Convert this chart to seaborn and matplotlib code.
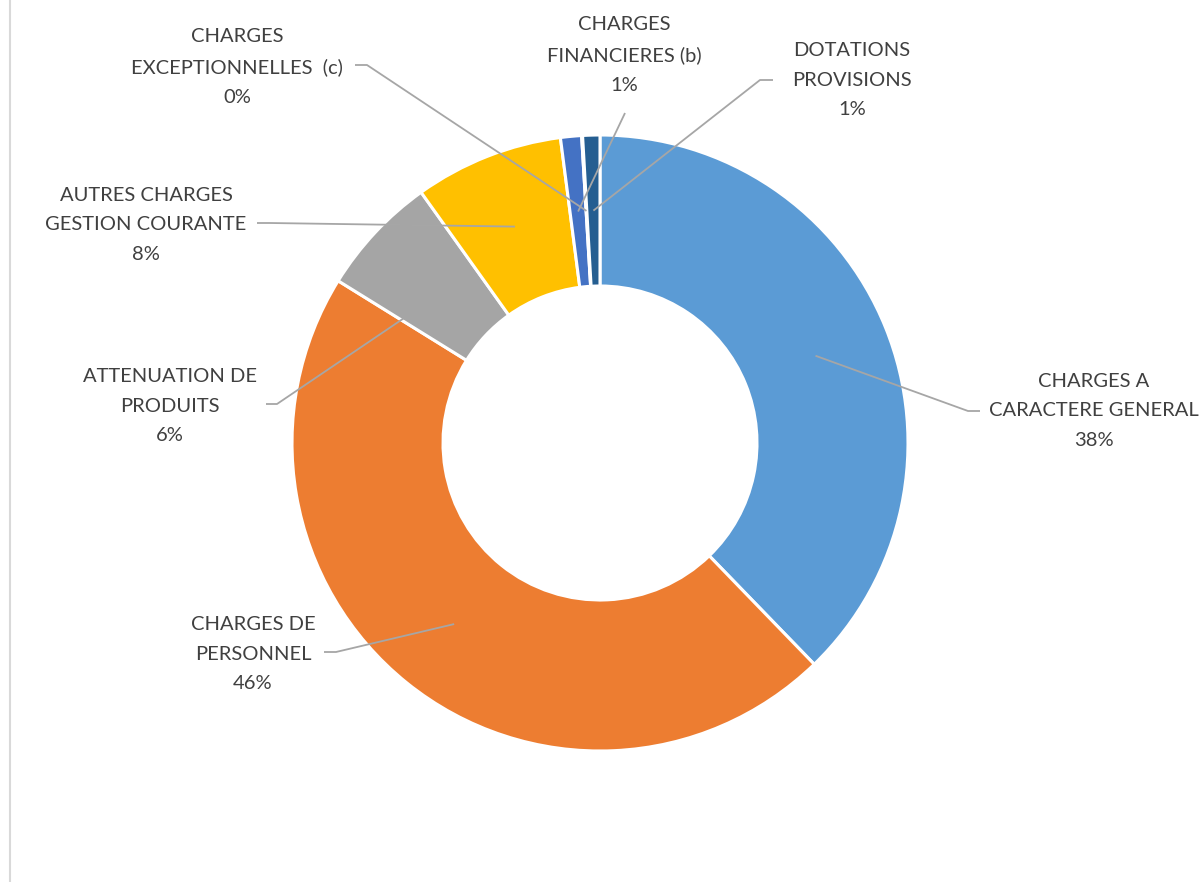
import numpy as np
import matplotlib
matplotlib.use("Agg")
import matplotlib.pyplot as plt
from matplotlib.lines import Line2D
import seaborn as sns

# Slices, clockwise from the top
categories = [
    "CHARGES A\nCARACTERE GENERAL",
    "CHARGES DE\nPERSONNEL",
    "ATTENUATION DE\nPRODUITS",
    "AUTRES CHARGES\nGESTION COURANTE",
    "CHARGES\nFINANCIERES (b)",
    "CHARGES\nEXCEPTIONNELLES  (c)",
    "DOTATIONS\nPROVISIONS",
]
values = [37.7, 46.0, 6.3, 7.8, 1.1, 0.05, 0.9]
colors = ["#5B9BD5", "#ED7D31", "#A5A5A5", "#FFC000", "#4472C4", "#70AD47", "#255E91"]

# Layout (pixel coords, y from top): label centre, leader start, elbow, where on the wedge
W, H = 1201, 882
label_pos = [(1094, 411), (253, 654), (170, 406), (146, 225), (624, 55), (237, 67), (852, 80)]
leader_start = [(980, 411), (324, 652), (266, 404), (257, 223), (625, 113), (355, 65), (773, 80)]
leader_elbow = [(968, 411), (336, 652), (277, 404), (270, 223), (625, 113), (367, 65), (760, 80)]
anchor_frac = [0.5, 0.5, 0.03, 0.5, 0.5, 0.5, 0.5]

sns.set_theme(style="white")
plt.rcParams["font.family"] = ["Lato", "DejaVu Sans"]

fig = plt.figure(figsize=(W / 100, H / 100), dpi=100)
ax = fig.add_axes([0, 0, 1, 1])

cx, cy, r_out, ring = 600, H - 443, 308, 151
wedges, _ = ax.pie(
    values,
    colors=colors,
    startangle=90,
    counterclock=False,
    center=(cx, cy),
    radius=r_out,
    frame=True,
    wedgeprops=dict(width=ring, edgecolor="white", linewidth=2.2),
)
ax.set_xlim(0, W)
ax.set_ylim(0, H)
ax.axis("off")

total = sum(values)
r_mid = r_out - ring / 2
for i, w in enumerate(wedges):
    pct = round(values[i] / total * 100)
    lx, ly = label_pos[i]
    ax.text(lx, H - ly, f"{categories[i]}\n{pct}%", ha="center", va="center",
            multialignment="center", fontsize=14.5, color="#404040", linespacing=1.9)
    ang = np.deg2rad(w.theta1 + (w.theta2 - w.theta1) * (1 - anchor_frac[i]))
    px, py = cx + r_mid * np.cos(ang), cy + r_mid * np.sin(ang)
    sx, sy = leader_start[i]
    ex, ey = leader_elbow[i]
    ax.plot([sx, ex, px], [H - sy, H - ey, py], color="#A6A6A6", lw=1.3,
            solid_capstyle="butt", zorder=5)

# thin frame edge on the left
fig.add_artist(Line2D([9.5 / W, 9.5 / W], [0, 1], color="#D9D9D9", lw=1.5))

fig.savefig("out.png", dpi=100)
